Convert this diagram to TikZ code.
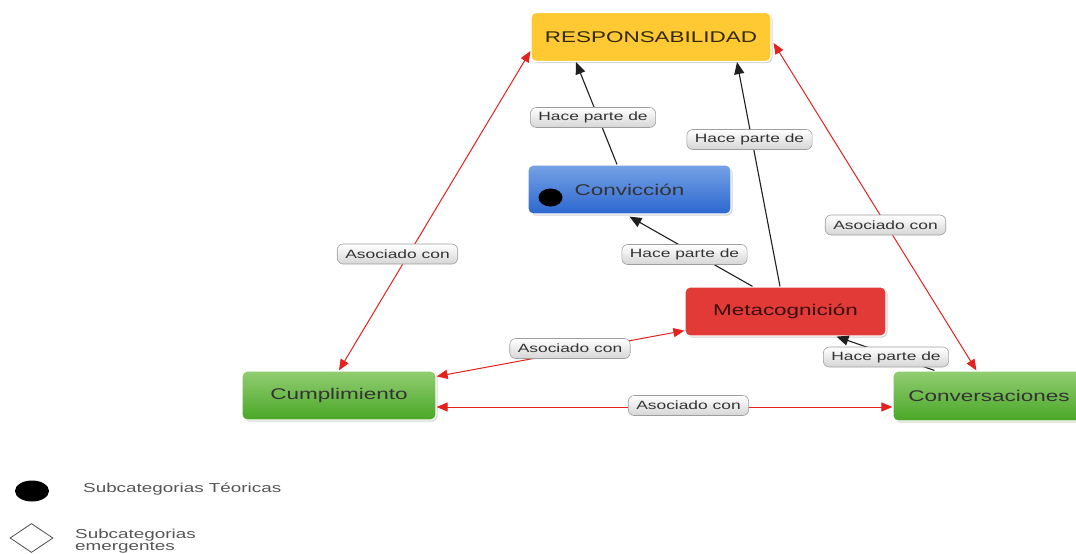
\documentclass[tikz,border=0pt]{standalone}
\usepackage{fontspec}
\setmainfont{Liberation Sans}[FakeStretch=1.45]
\usetikzlibrary{arrows.meta,shadows,calc,shapes.geometric}

\definecolor{respfill}{HTML}{FFC933}
\definecolor{bluetop}{HTML}{76A2E6}
\definecolor{bluebot}{HTML}{2C67CF}
\definecolor{redfill}{HTML}{E23B37}
\definecolor{greentop}{HTML}{92CD72}
\definecolor{greenbot}{HTML}{49A727}
\definecolor{linkred}{HTML}{E3211D}
\definecolor{inktext}{HTML}{333333}
\definecolor{legendtext}{HTML}{555555}
\definecolor{tagborder}{HTML}{9E9E9E}
\definecolor{tagbot}{HTML}{D6D6D6}

\tikzset{
  concept/.style={rectangle, rounded corners=5pt, draw=white, line width=1.2pt,
    minimum height=49pt, inner sep=0pt, text=inktext,
    font=\fontsize{15.5}{18}\selectfont,
    drop shadow={shadow xshift=1.5pt, shadow yshift=-1.5pt, opacity=0.35}},
  tag/.style={rectangle, rounded corners=6pt, draw=tagborder, line width=0.6pt,
    top color=white, bottom color=tagbot, text=inktext,
    minimum height=20pt, inner xsep=8pt, inner ysep=0pt,
    font=\fontsize{12}{14}\selectfont},
  partof/.style={draw=black!88, line width=1.1pt,
    -{Triangle[length=12pt,width=10pt]}},
  assoc/.style={draw=linkred, line width=1pt,
    {Triangle[length=11pt,width=9pt]}-{Triangle[length=11pt,width=9pt]}},
}

\begin{document}
\begin{tikzpicture}[x=1pt,y=-1pt]
\useasboundingbox (0,0) rectangle (1076,554);
\clip (0,0) rectangle (1076,554);

% concept boxes
\node[concept, fill=respfill, minimum width=240pt] (resp) at (651,37)
  {\color{black!80!respfill}RESPONSABILIDAD};
\node[concept, top color=bluetop, bottom color=bluebot, minimum width=203pt] (conv) at (629.5,189.5)
  {Convicción};
\node[concept, fill=redfill, minimum width=201pt] (meta) at (785.5,311.5)
  {\color{black!75!redfill}Metacognición};
\node[concept, top color=greentop, bottom color=greenbot, minimum width=194pt] (cump) at (339,395.5)
  {Cumplimiento};
\node[concept, top color=greentop, bottom color=greenbot, minimum width=192pt, minimum height=50pt] (convers) at (989,396)
  {Conversaciones};

% marker inside Convicción
\fill[black] (550.5,197.5) ellipse [x radius=12pt, y radius=9pt];

% "Hace parte de" links
\draw[partof] ($(conv.north)+(-12.5,0)$) -- ($(resp.south)+(-75,0)$);
\draw[partof] ($(meta.north)+(-5.5,0)$) -- ($(resp.south)+(86,0)$);
\draw[partof] ($(meta.north)+(-33,0)$) -- ($(conv.south)+(0,2)$);
\draw[partof] ($(convers.north west)+(42,0)$) -- ($(meta.south)+(51,0)$);

% "Asociado con" links
\draw[assoc] ($(resp.south west)+(0,-11)$) -- (cump.north);
\draw[assoc] ($(resp.east)+(2,6)$) -- ($(convers.north west)+(84,0)$);
\draw[assoc] ($(meta.south west)+(0,-6)$) -- ($(cump.north east)+(0,6)$);
\draw[assoc] ($(cump.east)+(0,11.5)$) -- ($(convers.west)+(0,11)$);

% link tags
\node[tag] (t1) at (593,117.5) {Hace parte de};
\node[tag] (t2) at (749.5,139.5) {Hace parte de};
\node[tag] (t3) at (684.5,254.5) {Hace parte de};
\node[tag] (t4) at (886,357) {Hace parte de};
\node[tag] (a1) at (397.5,254) {Asociado con};
\node[tag] (a2) at (885.5,225) {Asociado con};
\node[tag] (a3) at (570,348.5) {Asociado con};
\node[tag] (a4) at (688.5,405.5) {Asociado con};

% legend
\fill[black] (32,491) ellipse [x radius=17pt, y radius=10.5pt];
\node[anchor=west, text=legendtext, font=\fontsize{13}{14}\selectfont, inner sep=0pt] (lg1) at (83,489)
  {Subcategorias Téoricas};
\node[diamond, draw=black!70, fill=white, line width=0.8pt, minimum width=43pt, minimum height=29pt,
  inner sep=0pt, shape aspect=1.48] (dia) at (31.5,538) {};
\node[anchor=west, text=legendtext, font=\fontsize{13}{12.5}\selectfont, inner sep=0pt,
  align=left] (lg2) at (75,541) {Subcategorias\\emergentes};
\end{tikzpicture}
\end{document}
